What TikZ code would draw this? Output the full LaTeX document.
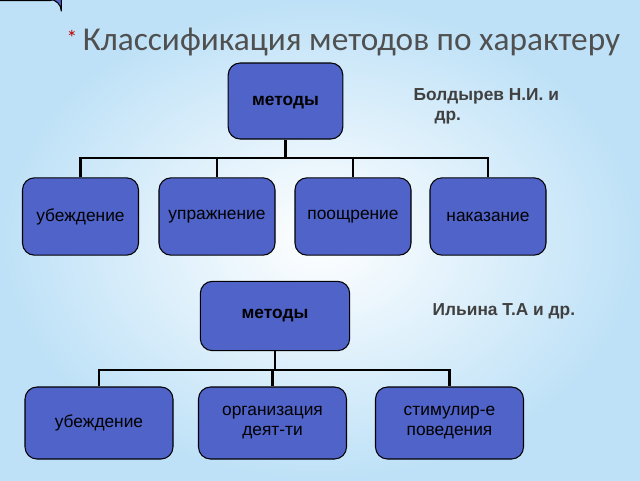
\documentclass[tikz,border=0pt]{standalone}
\usepackage{fontspec}
\setmainfont{Liberation Sans}
\newfontfamily\titlefont{Carlito}
\begin{document}
\begin{tikzpicture}[x=0.75pt,y=-0.75pt,
 box/.style={draw=black,line width=0.8pt,fill={rgb,255:red,79;green,99;blue,201},rounded corners=9pt,inner sep=0pt,align=center,font=\fontsize{13}{15}\selectfont},
 bus/.style={line width=2pt,black}]
\path[inner color=white,outer color={rgb,255:red,190;green,225;blue,247}] (0,0) rectangle (640,480);
\useasboundingbox (0,0) rectangle (640,480);
\node[anchor=west,font=\titlefont\fontsize{25}{28}\selectfont,text={rgb,255:red,80;green,80;blue,80}] (title) at (62,42) {\textcolor{red!75!black}{\raisebox{4pt}{\fontsize{16}{16}\selectfont*}}\,Классификация методов по характеру};
\node[box,minimum width=115\pgflinewidth] at (0,0) {};
\node[box] (m1) at (285.5,101) {\rule{0pt}{57pt}\hspace{86pt}};
\node[font=\bfseries\fontsize{13}{15}\selectfont] (m1t) at (285.5,103) {методы};
\foreach \n/\x/\t in {a/80.5/убеждение,b/217/упражнение,c/353/поощрение,d/488/наказание}{
 \node[box,minimum width=87pt,minimum height=58pt] (\n) at (\x,216.5) {\t};}
\draw[bus] (m1.south) -- (285.5,158);
\draw[bus] (a.north) |- (285.5,158) -| (d.north);
\draw[bus] (b.north) -- (217,158);
\draw[bus] (c.north) -- (353,158);
\node[anchor=north west,align=left,font=\bfseries\fontsize{13}{15}\selectfont,text={rgb,255:red,64;green,64;blue,64}] (auth1) at (409,84) {Болдырев Н.И. и\\\hspace*{1.2em}др.};
\node[box,minimum width=112pt,minimum height=52pt,font=\bfseries\fontsize{13}{15}\selectfont] (m2) at (275,316) {методы};
\foreach \n/\x/\t in {e/99/убеждение,f/272.5/организация\\деят-ти,g/449.5/стимулир-е\\поведения}{
 \node[box,minimum width=111pt,minimum height=54pt] (\n) at (\x,423) {\t};}
\draw[bus] (m2.south) -- (275,370);
\draw[bus] (e.north) |- (275,370) -| (g.north);
\draw[bus] (f.north) -- (272.5,370);
\node[anchor=west,font=\bfseries\fontsize{13}{15}\selectfont,text={rgb,255:red,64;green,64;blue,64}] (auth2) at (428,311) {Ильина Т.А и др.};
\end{tikzpicture}
\end{document}
